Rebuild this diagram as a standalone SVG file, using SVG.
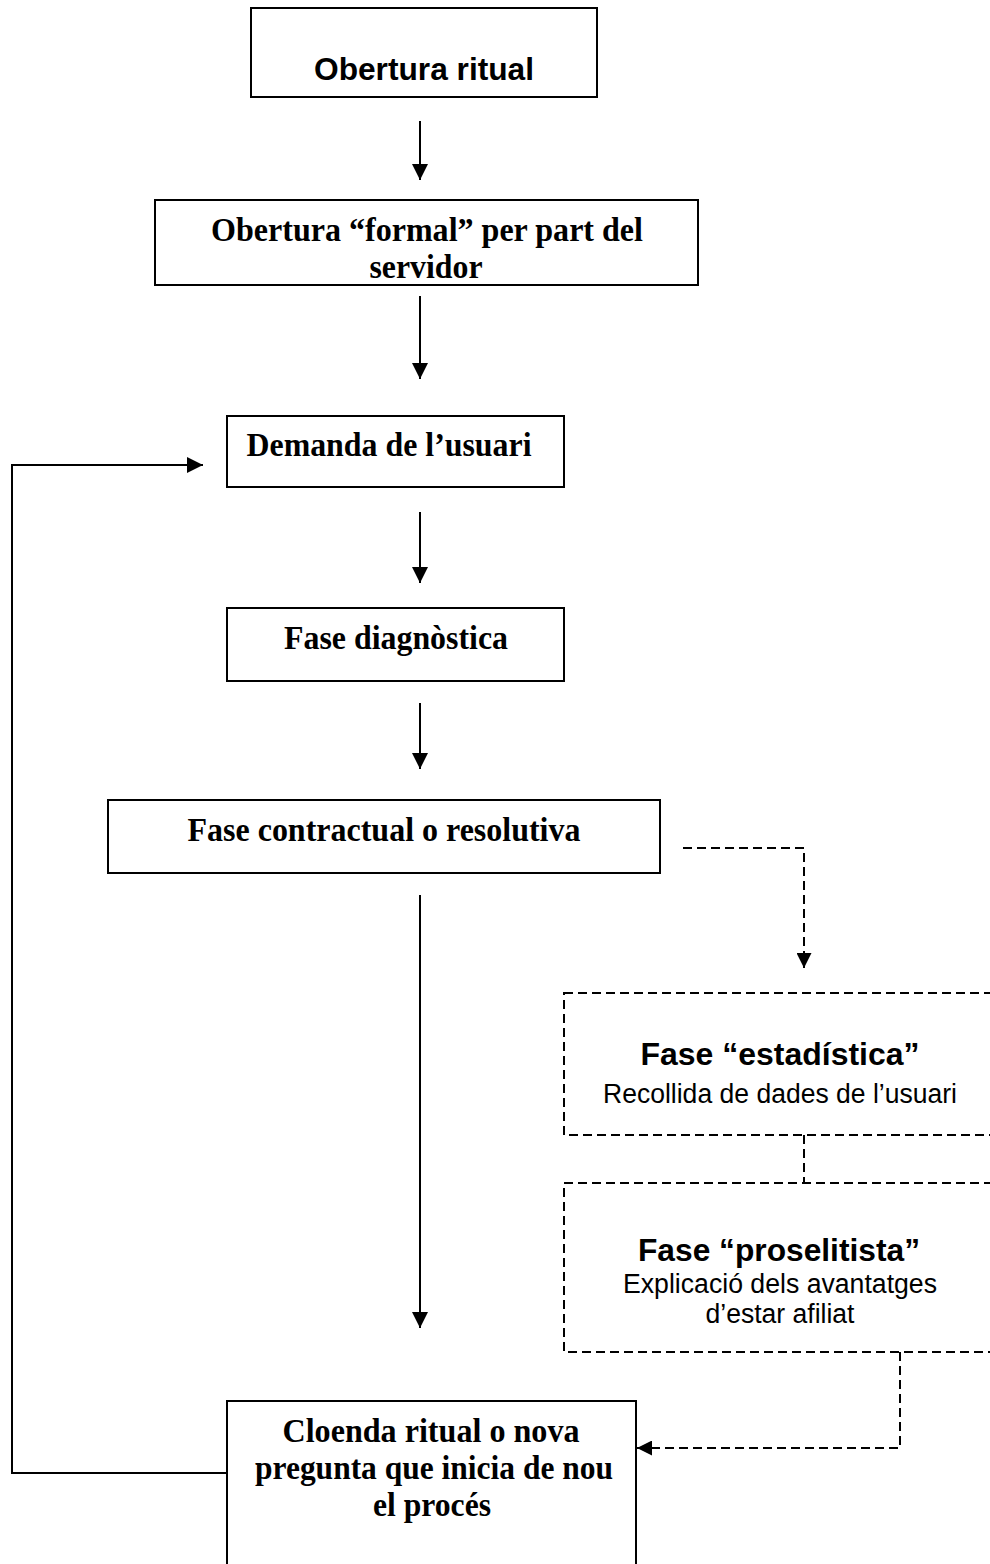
<svg xmlns="http://www.w3.org/2000/svg" width="990" height="1564" viewBox="0 0 990 1564">
<style>
.box{fill:#fff;stroke:#000;stroke-width:2}
.dbox{fill:#fff;stroke:#000;stroke-width:2;stroke-dasharray:9 5}
.con{fill:none;stroke:#000;stroke-width:2}
.dcon{fill:none;stroke:#000;stroke-width:2;stroke-dasharray:9 5}
.serif{font-family:"Liberation Serif","Times New Roman",serif;font-weight:bold;font-size:33px;text-anchor:middle;fill:#000}
.sansb{font-family:"Liberation Sans",Arial,sans-serif;font-weight:bold;font-size:32px;text-anchor:middle;fill:#000}
.sans{font-family:"Liberation Sans",Arial,sans-serif;font-size:27px;text-anchor:middle;fill:#000}
</style>
<defs>
<marker id="arr" markerUnits="userSpaceOnUse" markerWidth="16" markerHeight="16" refX="16" refY="8" orient="auto">
<path d="M0,0 L16,8 L0,16 Z" fill="#000"/>
</marker>
<marker id="darr" markerUnits="userSpaceOnUse" markerWidth="15" markerHeight="15" refX="15" refY="7.5" orient="auto">
<path d="M0,0 L15,7.5 L0,15 Z" fill="#000"/>
</marker>
</defs>
<g id="connectors">
<line class="con" x1="420" y1="121" x2="420" y2="180" marker-end="url(#arr)"/>
<line class="con" x1="420" y1="296" x2="420" y2="379" marker-end="url(#arr)"/>
<line class="con" x1="420" y1="512" x2="420" y2="583" marker-end="url(#arr)"/>
<line class="con" x1="420" y1="703" x2="420" y2="769" marker-end="url(#arr)"/>
<line class="con" x1="420" y1="895" x2="420" y2="1328" marker-end="url(#arr)"/>
<polyline class="con" points="227,1473 12,1473 12,465 203,465" marker-end="url(#arr)"/>
<polyline class="dcon" points="683,848 804,848 804,968" marker-end="url(#darr)"/>
<line class="dcon" x1="804" y1="1135" x2="804" y2="1183"/>
<polyline class="dcon" points="900,1352 900,1448 637,1448" marker-end="url(#darr)"/>
</g>
<g id="n1">
<rect class="box" x="251" y="8" width="346" height="89"/>
<text class="sansb" x="424" y="80" textLength="220" lengthAdjust="spacingAndGlyphs">Obertura ritual</text>
</g>
<g id="n2">
<rect class="box" x="155" y="200" width="543" height="85"/>
<text class="serif" x="427" y="241" textLength="432" lengthAdjust="spacingAndGlyphs">Obertura “formal” per part del</text>
<text class="serif" x="426" y="278" textLength="113" lengthAdjust="spacingAndGlyphs">servidor</text>
</g>
<g id="n3">
<rect class="box" x="227" y="416" width="337" height="71"/>
<text class="serif" x="389" y="456" textLength="285" lengthAdjust="spacingAndGlyphs">Demanda de l’usuari</text>
</g>
<g id="n4">
<rect class="box" x="227" y="608" width="337" height="73"/>
<text class="serif" x="396" y="649" textLength="224" lengthAdjust="spacingAndGlyphs">Fase diagnòstica</text>
</g>
<g id="n5">
<rect class="box" x="108" y="800" width="552" height="73"/>
<text class="serif" x="384" y="841" textLength="393" lengthAdjust="spacingAndGlyphs">Fase contractual o resolutiva</text>
</g>
<g id="n6">
<rect class="dbox" x="564" y="993" width="440" height="142"/>
<text class="sansb" x="780" y="1065" textLength="279" lengthAdjust="spacingAndGlyphs">Fase “estadística”</text>
<text class="sans" x="780" y="1103" textLength="354" lengthAdjust="spacingAndGlyphs">Recollida de dades de l’usuari</text>
</g>
<g id="n7">
<rect class="dbox" x="564" y="1183" width="440" height="169"/>
<text class="sansb" x="779" y="1261" textLength="282" lengthAdjust="spacingAndGlyphs">Fase “proselitista”</text>
<text class="sans" x="780" y="1293" textLength="314" lengthAdjust="spacingAndGlyphs">Explicació dels avantatges</text>
<text class="sans" x="780" y="1323" textLength="149" lengthAdjust="spacingAndGlyphs">d’estar afiliat</text>
</g>
<g id="n8">
<rect class="box" x="227" y="1401" width="409" height="200"/>
<text class="serif" x="431" y="1442" textLength="297" lengthAdjust="spacingAndGlyphs">Cloenda ritual o nova</text>
<text class="serif" x="434" y="1479" textLength="358" lengthAdjust="spacingAndGlyphs">pregunta que inicia de nou</text>
<text class="serif" x="432" y="1516" textLength="118" lengthAdjust="spacingAndGlyphs">el procés</text>
</g>
</svg>
